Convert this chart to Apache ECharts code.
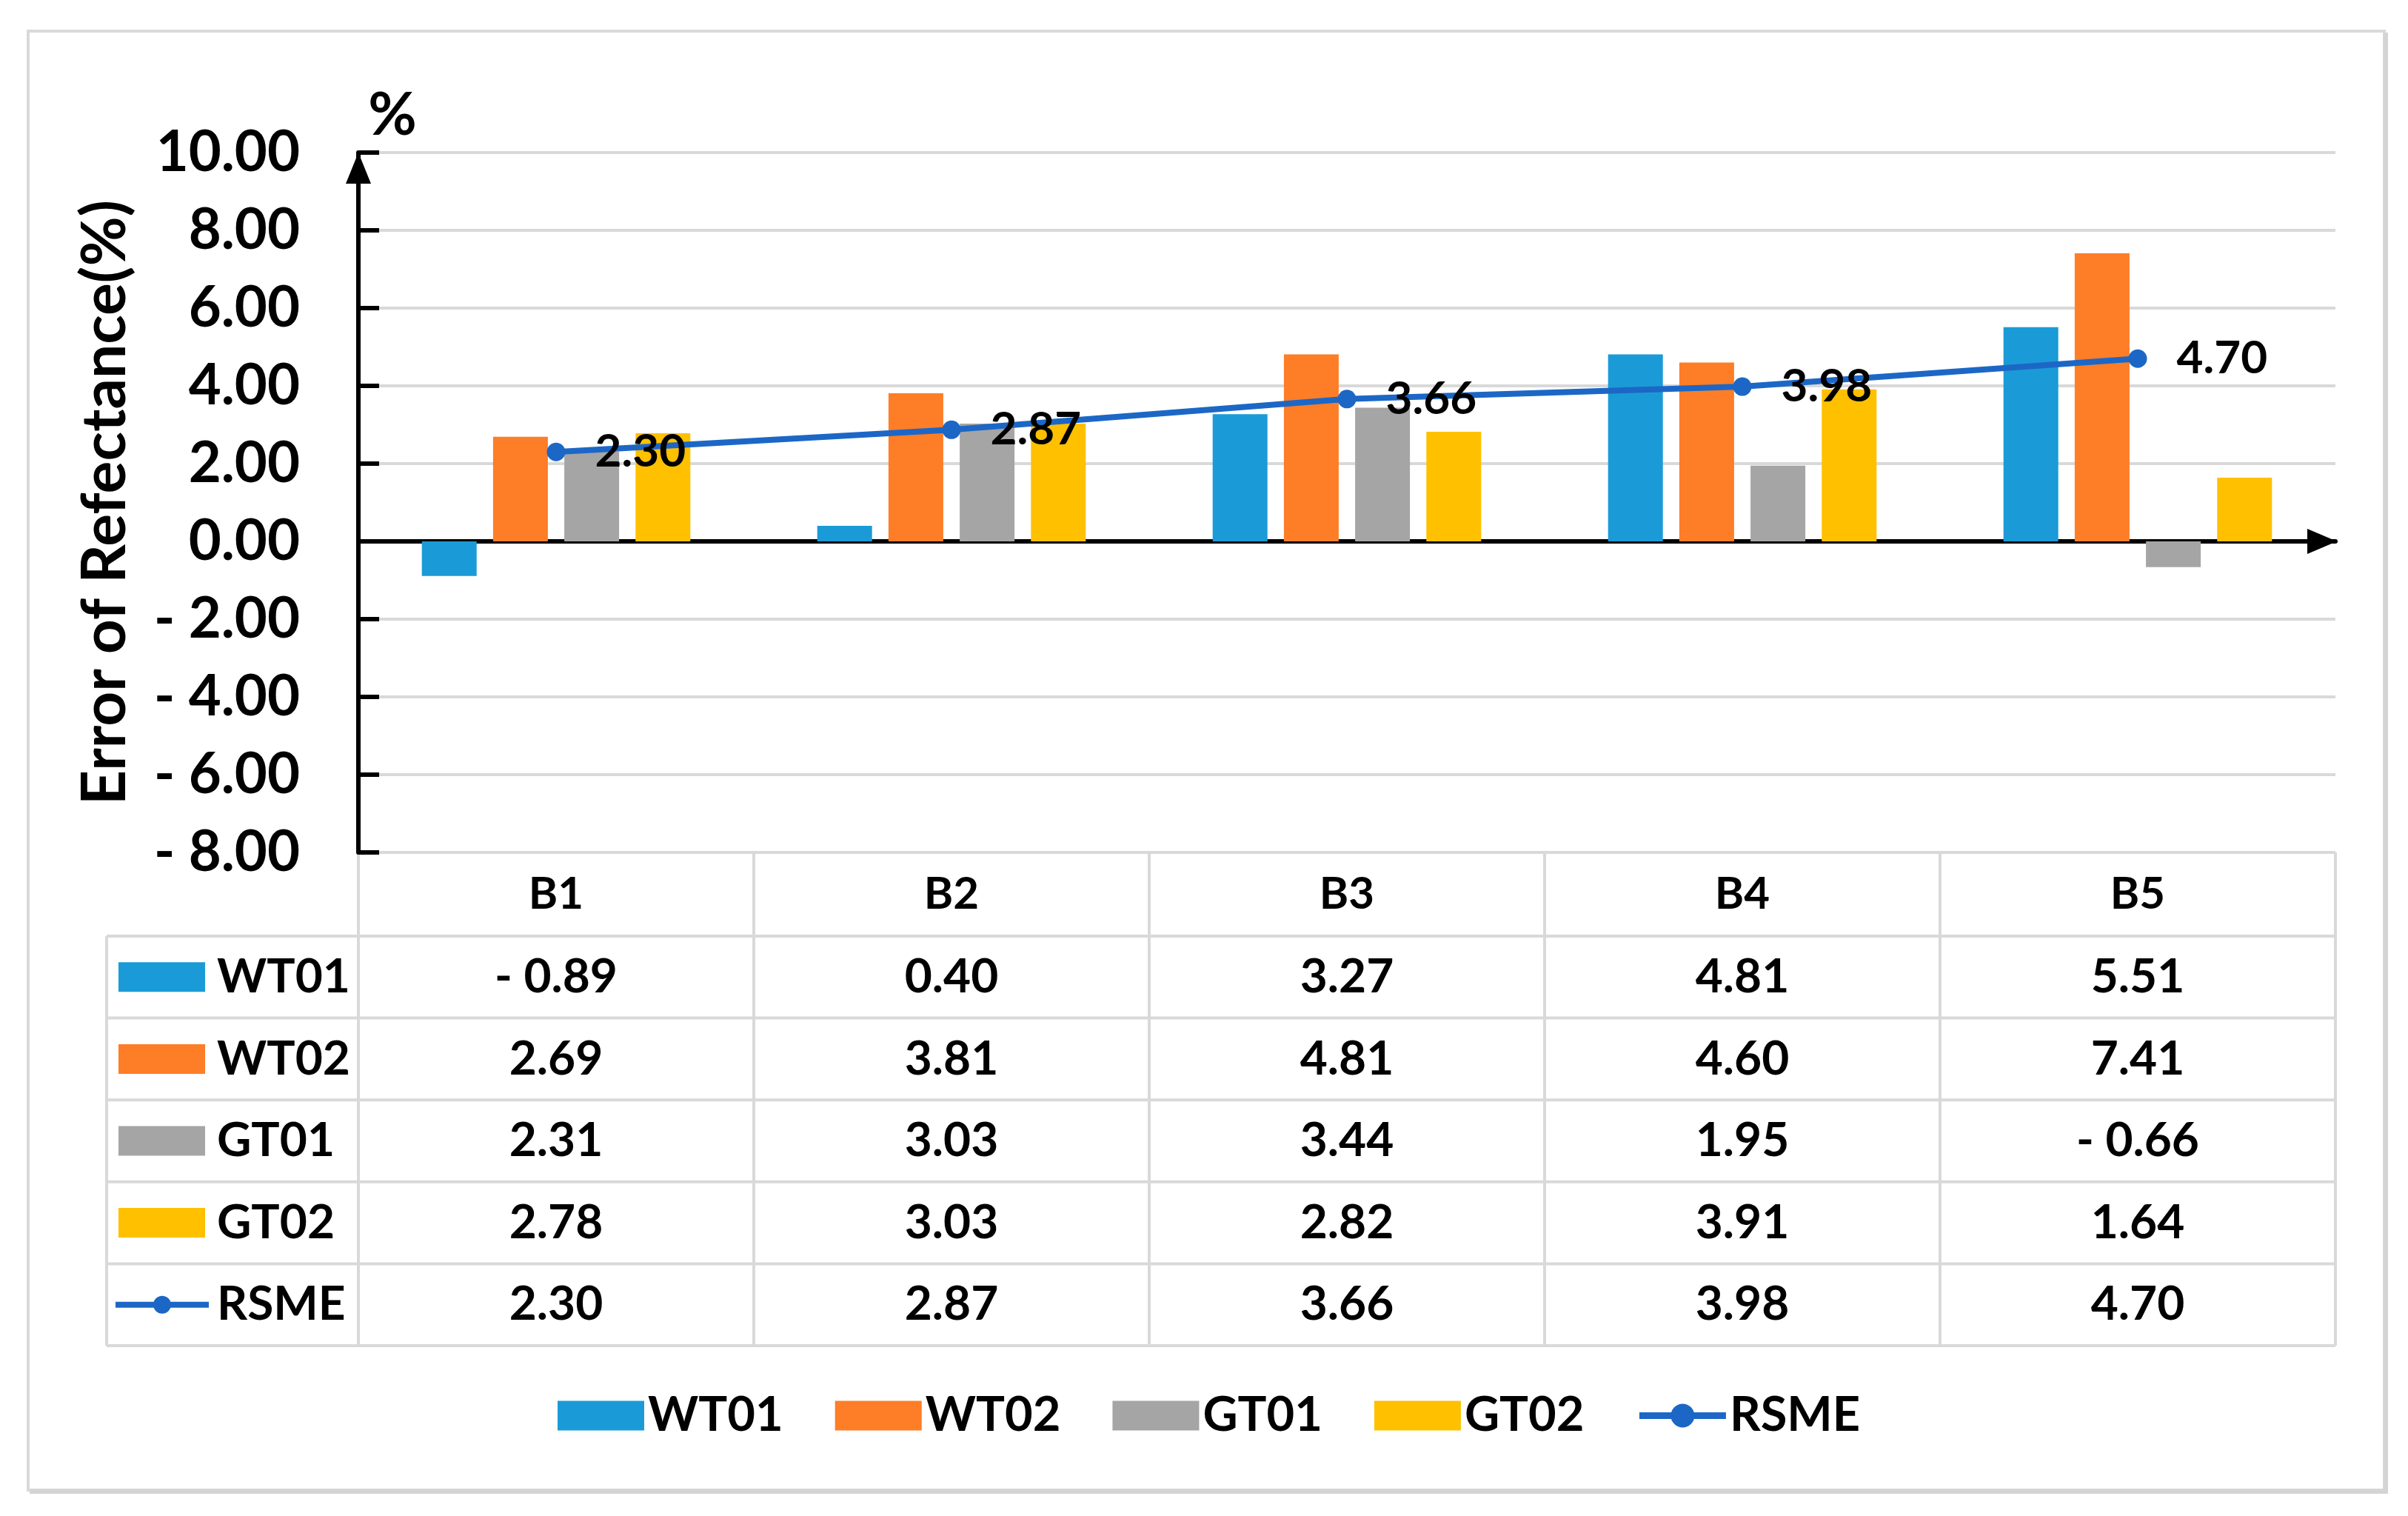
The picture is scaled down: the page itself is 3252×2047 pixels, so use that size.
<!DOCTYPE html>
<html><head><meta charset="utf-8">
<script src="https://cdn.jsdelivr.net/npm/echarts@6/dist/echarts.min.js"></script>
<style>html,body{margin:0;padding:0;background:#fff}#c{width:3252px;height:2047px}</style>
</head><body><div id="c"></div>
<script>
// ---- data ----
const categories = ['B1', 'B2', 'B3', 'B4', 'B5'];
const seriesNames = ['WT01', 'WT02', 'GT01', 'GT02', 'RSME'];
const wt01 = [-0.89, 0.40, 3.27, 4.81, 5.51];
const wt02 = [2.69, 3.81, 4.81, 4.60, 7.41];
const gt01 = [2.31, 3.03, 3.44, 1.95, -0.66];
const gt02 = [2.78, 3.03, 2.82, 3.91, 1.64];
const rsme = [2.30, 2.87, 3.66, 3.98, 4.70];
const yMin = -8, yMax = 10, yStep = 2;
const yAxisTitle = 'Error of Refectance(%)';
const unitLabel = '%';

// ---- style ----
const FONT = 'Lato';
const colors = ['#1a9bd7', '#fe7d27', '#a5a5a5', '#ffc000', '#1c67c6'];
const gridCol = '#d9d9d9';
const G = { left: 484, top: 206, width: 2670, height: 945 };

function fmt(v) { return v < 0 ? '- ' + Math.abs(v).toFixed(2) : v.toFixed(2); }

const chart = echarts.init(document.getElementById('c'), null, { renderer: 'canvas' });

const barCommon = { type: 'bar', barWidth: 74, barGap: '30%' };
const tableData = [wt01, wt02, gt01, gt02, rsme];

const option = {
  backgroundColor: '#fff',
  animation: false,
  grid: { left: G.left, top: G.top, width: G.width, height: G.height, containLabel: false },
  legend: {
    left: 748, top: 1874,
    itemWidth: 117, itemHeight: 40, itemGap: 70,
    textStyle: { fontFamily: FONT, fontWeight: 'bold', fontSize: 65, color: '#000' },
    data: [
      { name: 'WT01', icon: 'rect' }, { name: 'WT02', icon: 'rect' },
      { name: 'GT01', icon: 'rect' }, { name: 'GT02', icon: 'rect' },
      { name: 'RSME', lineStyle: { width: 9, color: colors[4] } }
    ]
  },
  xAxis: {
    type: 'category', data: categories,
    axisLine: { show: true, onZero: true, lineStyle: { color: '#000', width: 6 },
      symbol: ['none', 'triangle'], symbolSize: [34, 40], symbolOffset: [0, -18] },
    axisTick: { show: false }, axisLabel: { show: false }, splitLine: { show: false }
  },
  yAxis: {
    type: 'value', min: yMin, max: yMax, interval: yStep,
    name: yAxisTitle, nameLocation: 'middle', nameGap: 300, nameRotate: 90,
    nameTextStyle: { fontFamily: FONT, fontWeight: 'bold', fontSize: 82, color: '#000' },
    axisLine: { show: true, onZero: false, lineStyle: { color: '#000', width: 6 },
      symbol: ['none', 'triangle'], symbolSize: [34, 42], symbolOffset: [0, -21] },
    axisTick: { show: true, inside: true, length: 28, lineStyle: { color: '#000', width: 6 } },
    axisLabel: { margin: 79, fontFamily: FONT, fontWeight: 'bold', fontSize: 76, color: '#000',
      formatter: v => fmt(v) },
    splitLine: { show: true, lineStyle: { color: gridCol, width: 4 } }
  },
  series: [
    Object.assign({ name: 'WT01', data: wt01, itemStyle: { color: colors[0] } }, barCommon),
    Object.assign({ name: 'WT02', data: wt02, itemStyle: { color: colors[1] } }, barCommon),
    Object.assign({ name: 'GT01', data: gt01, itemStyle: { color: colors[2] } }, barCommon),
    Object.assign({ name: 'GT02', data: gt02, itemStyle: { color: colors[3] } }, barCommon),
    {
      name: 'RSME', type: 'line', data: rsme, z: 5,
      symbol: 'circle', symbolSize: 25,
      lineStyle: { color: colors[4], width: 8 }, itemStyle: { color: colors[4] },
      label: { show: true, position: 'right', distance: 40, formatter: p => fmt(p.value),
        fontFamily: FONT, fontWeight: 'bold', fontSize: 62, color: '#000' }
    }
  ]
};
chart.setOption(option);

// ---- data table and frame, placed from the axis scale ----
const centers = categories.map(c => chart.convertToPixel({ xAxisIndex: 0 }, c));
const colW = G.width / categories.length;
const tableTop = G.top + G.height;
const headerH = 113, rowH = 110.6;
const labelLeft = 144;
const tableRight = G.left + G.width;
const tableBottom = tableTop + headerH + rowH * seriesNames.length;
const gfx = [];
const lineSty = { stroke: gridCol, lineWidth: 4 };
// outer frame
gfx.push({ type: 'rect', shape: { x: 38, y: 42, width: 3182, height: 1970 }, style: { fill: null, stroke: gridCol, lineWidth: 4 }, silent: true, z: -10 });
gfx.push({ type: 'line', shape: { x1: 3222, y1: 44, x2: 3222, y2: 2016 }, style: { stroke: '#d4d4d4', lineWidth: 6 }, silent: true, z: -10 });
gfx.push({ type: 'line', shape: { x1: 40, y1: 2014, x2: 3225, y2: 2014 }, style: { stroke: '#d4d4d4', lineWidth: 6 }, silent: true, z: -10 });
// vertical lines of table
for (let i = 0; i <= categories.length; i++) {
  const x = G.left + i * colW;
  gfx.push({ type: 'line', shape: { x1: x, y1: tableTop, x2: x, y2: tableBottom }, style: lineSty, silent: true });
}
gfx.push({ type: 'line', shape: { x1: labelLeft, y1: tableTop + headerH, x2: labelLeft, y2: tableBottom }, style: lineSty, silent: true });
// horizontal lines
for (let r = 0; r <= seriesNames.length; r++) {
  const y = tableTop + headerH + r * rowH;
  gfx.push({ type: 'line', shape: { x1: labelLeft, y1: y, x2: tableRight, y2: y }, style: lineSty, silent: true });
}
const txt = (x, y, t, align, size) => ({ type: 'text', x: x, y: y, silent: true, z: 10,
  style: { text: t, fontFamily: FONT, fontWeight: 'bold', fontSize: size, fill: '#000', align: align, verticalAlign: 'middle' } });
// header
categories.forEach((c, i) => gfx.push(txt(centers[i], tableTop + headerH / 2, c, 'center', 60)));
// rows
seriesNames.forEach((name, r) => {
  const cy = tableTop + headerH + r * rowH + rowH / 2;
  if (r < 4) {
    gfx.push({ type: 'rect', shape: { x: 160, y: cy - 20, width: 117, height: 40 }, style: { fill: colors[r] }, silent: true });
  } else {
    gfx.push({ type: 'line', shape: { x1: 156, y1: cy, x2: 282, y2: cy }, style: { stroke: colors[4], lineWidth: 8 }, silent: true });
    gfx.push({ type: 'circle', shape: { cx: 219, cy: cy, r: 12 }, style: { fill: colors[4] }, silent: true });
  }
  gfx.push(txt(293, cy, name, 'left', 64));
  tableData[r].forEach((v, i) => gfx.push(txt(centers[i], cy, fmt(v), 'center', 64)));
});
// unit label above the y axis
gfx.push(txt(530, 156, unitLabel, 'center', 80));
chart.setOption({ graphic: gfx });
</script></body></html>
